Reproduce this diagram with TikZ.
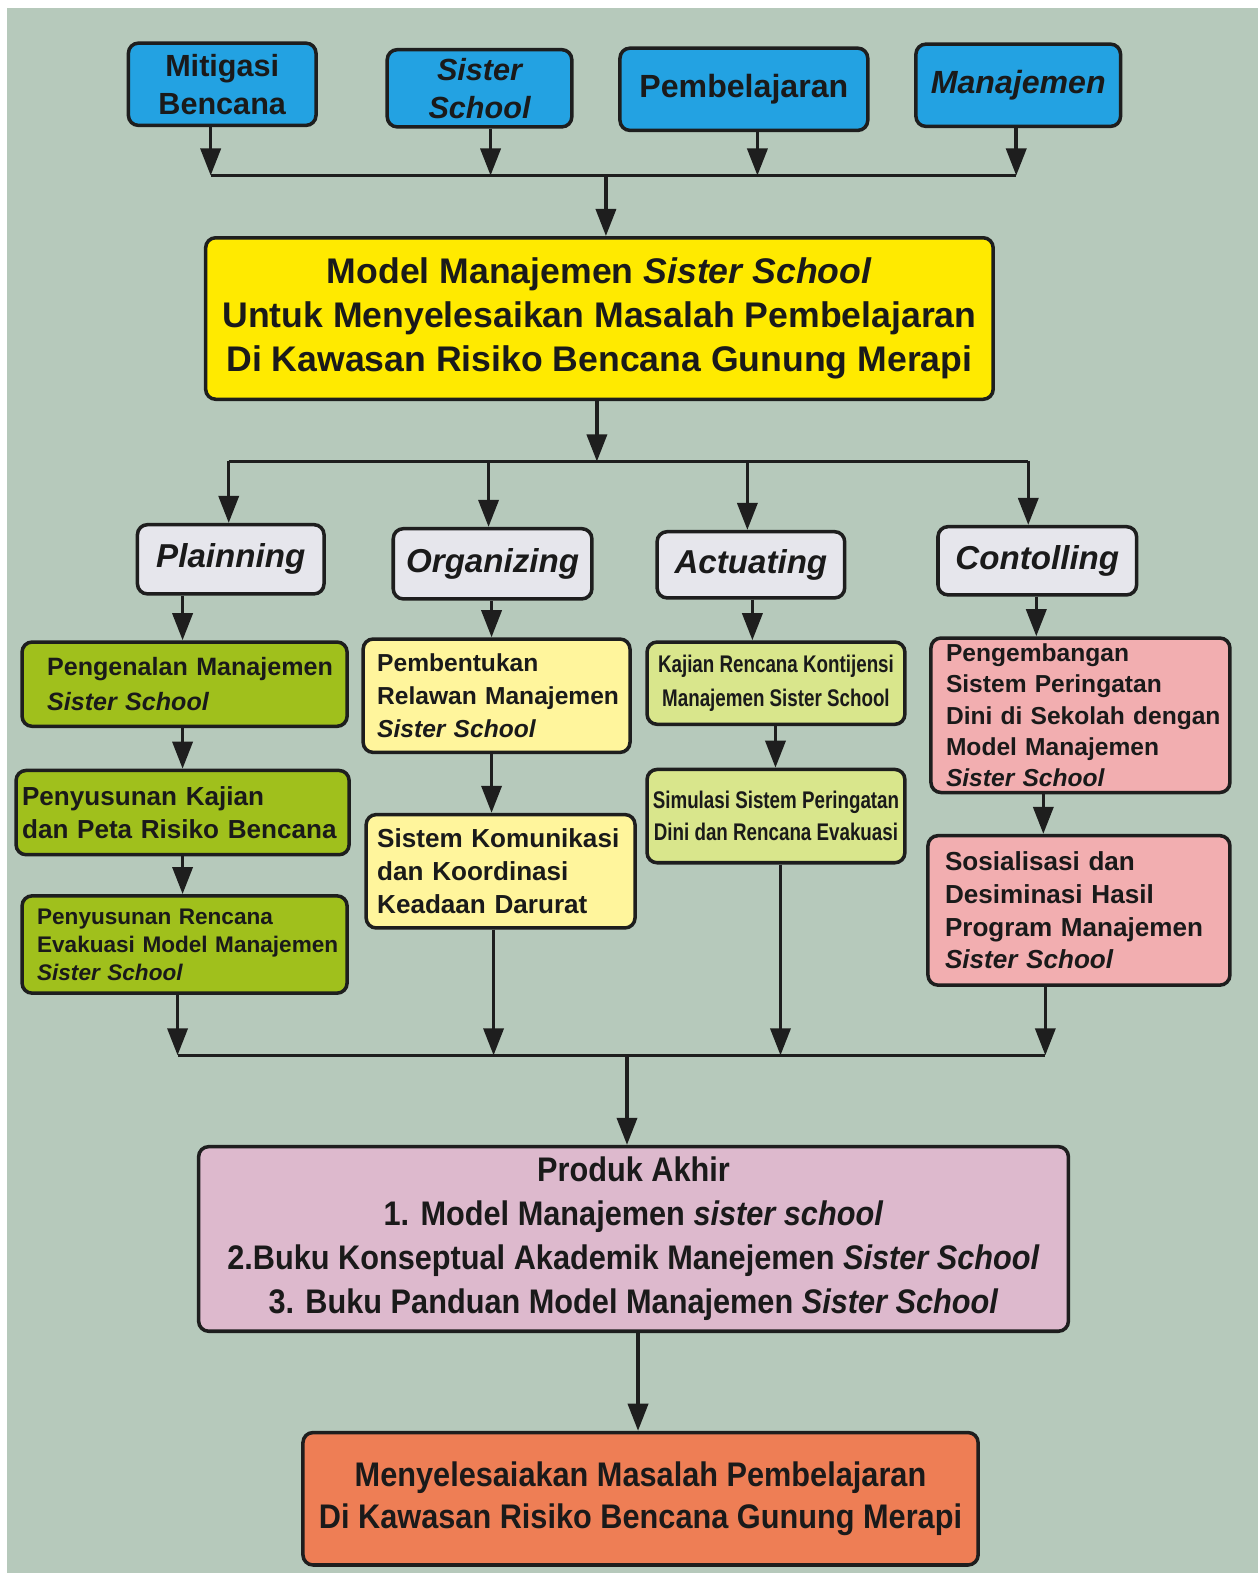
\documentclass[tikz,border=0pt]{standalone}
\usepackage{fontspec}
\setmainfont{Liberation Sans}
\newfontfamily\narrowf{Liberation Sans}[FakeStretch=0.78]
\newfontfamily\semif{Liberation Sans}[FakeStretch=0.9]
\usetikzlibrary{arrows.meta}
\definecolor{bg}{HTML}{B6C9BB}
\definecolor{linec}{HTML}{1E1E1E}
\definecolor{txt}{HTML}{1A1A1A}
\definecolor{blue1}{HTML}{23A2E2}
\definecolor{yel}{HTML}{FFEA00}
\definecolor{gry}{HTML}{E6E6EC}
\definecolor{grn}{HTML}{A0C01C}
\definecolor{lyel}{HTML}{FFF59C}
\definecolor{lgrn}{HTML}{D9E68C}
\definecolor{pnk}{HTML}{F2AEB0}
\definecolor{lil}{HTML}{DDB9CD}
\definecolor{org}{HTML}{EE7E55}
\newcommand\fs[2]{\fontsize{#1}{#2}\selectfont}
\newcommand\ind[1]{\hspace*{#1}}
\tikzset{
  box/.style={draw=linec, line width=3.5pt, rounded corners=10pt, inner ysep=0pt, text=txt},
  lbox/.style={box, align=left, inner xsep=0pt},
  arr/.style={draw=linec, line width=3.5pt, -{Triangle[width=20pt,length=27pt]}},
  bus/.style={draw=linec, line width=3.5pt},
}
\begin{document}
\begin{tikzpicture}[x=1pt,y=-1pt]
\useasboundingbox (0,0) rectangle (1254,1568);
\fill[white] (0,0) rectangle (1254,1568);
\fill[bg] (7,8) rectangle (1254,1568);

% top row
\node[box, fill=blue1, minimum width=187pt, minimum height=82pt, align=center, font=\bfseries\fs{30.5}{38}] (mit) at (221.5,84) {Mitigasi\\Bencana};
\node[box, fill=blue1, minimum width=184pt, minimum height=77pt, align=center, font=\bfseries\itshape\fs{30.5}{38}] (sis) at (478,88) {Sister\\School};
\node[box, fill=blue1, minimum width=247pt, minimum height=82pt, align=center, font=\bfseries\fs{32}{38}] (pem) at (741.5,89) {Pembelajaran};
\node[box, fill=blue1, minimum width=204pt, minimum height=82pt, align=center, font=\bfseries\itshape\fs{32}{38}] (man) at (1015,85) {Manajemen};

\coordinate (b1) at (210,175);
\coordinate (b2) at (489,175);
\coordinate (b3) at (755,175);
\coordinate (b4) at (1013,175);
\coordinate (bm) at (604,175);
\draw[arr] (mit.south -| b1) -- (b1);
\draw[arr] (sis.south -| b2) -- (b2);
\draw[arr] (pem.south -| b3) -- (b3);
\draw[arr] (man.south -| b4) -- (b4);
\draw[bus] (b1) -- (b4);

% model
\node[box, fill=yel, minimum width=785pt, minimum height=161pt, align=center, font=\bfseries\fs{35.5}{44}] (model) at (597.5,317.5)
 {Model Manajemen \textit{Sister School}\\Untuk Menyelesaikan Masalah Pembelajaran\\Di Kawasan Risiko Bencana Gunung Merapi};
\draw[arr] (bm) -- (model.north -| bm);

% bus 2
\coordinate (m1) at (595,460);
\coordinate (d1) at (228,460);
\coordinate (d2) at (487,460);
\coordinate (d3) at (745,460);
\coordinate (d4) at (1025,460);
\draw[arr] (model.south -| m1) -- (m1);
\draw[bus] (d1) -- (d4);

% gray
\node[box, fill=gry, minimum width=186pt, minimum height=69pt, align=center, font=\bfseries\itshape\fs{33}{38}] (pl) at (230,557.5) {Plainning};
\node[box, fill=gry, minimum width=198pt, minimum height=70pt, align=center, font=\bfseries\itshape\fs{33}{38}] (orgz) at (491,562) {Organizing};
\node[box, fill=gry, minimum width=187pt, minimum height=66pt, align=center, font=\bfseries\itshape\fs{33}{38}] (act) at (748.5,563) {Actuating};
\node[box, fill=gry, minimum width=198pt, minimum height=68pt, align=center, font=\bfseries\itshape\fs{33}{38}] (con) at (1034,559) {Contolling};
\draw[arr] (d1) -- (pl.north -| d1);
\draw[arr] (d2) -- (orgz.north -| d2);
\draw[arr] (d3) -- (act.north -| d3);
\draw[arr] (d4) -- (con.north -| d4);

% column 1
\coordinate (x1) at (182,0);
\coordinate (x1b) at (177,1052);
\node[lbox, fill=grn, minimum width=324pt, minimum height=84pt, text width=324pt, font=\bfseries\fs{25}{35}] (g1) at (184,682)
 {\ind{25pt}Pengenalan Manajemen\\\ind{25pt}\textit{Sister School}};
\node[lbox, fill=grn, minimum width=332pt, minimum height=84pt, text width=332pt, font=\bfseries\fs{26}{33}] (g2) at (182,810)
 {\ind{6pt}Penyusunan Kajian\\\ind{6pt}dan Peta Risiko Bencana};
\node[lbox, fill=grn, minimum width=324pt, minimum height=97pt, text width=324pt, font=\bfseries\fs{22.5}{28}] (g3) at (184,941.5)
 {\ind{15pt}Penyusunan Rencana\\\ind{15pt}Evakuasi Model Manajemen\\\ind{15pt}\textit{Sister School}};
\draw[arr] (pl.south -| x1) -- (g1.north -| x1);
\draw[arr] (g1.south -| x1) -- (g2.north -| x1);
\draw[arr] (g2.south -| x1) -- (g3.north -| x1);
\draw[arr] (g3.south -| x1b) -- (x1b);

% column 2
\coordinate (x2) at (490,0);
\coordinate (x2b) at (492,1052);
\node[lbox, fill=lyel, minimum width=266pt, minimum height=113pt, text width=266pt, font=\bfseries\fs{24.5}{33}] (y1) at (495,693.5)
 {\ind{14pt}Pembentukan\\\ind{14pt}Relawan Manajemen\\\ind{14pt}\textit{Sister School}};
\node[lbox, fill=lyel, minimum width=268pt, minimum height=113pt, text width=268pt, font=\bfseries\fs{26}{33}] (y2) at (499,868.5)
 {\ind{11pt}Sistem Komunikasi\\\ind{11pt}dan Koordinasi\\\ind{11pt}Keadaan Darurat};
\draw[arr] (orgz.south -| x2) -- (y1.north -| x2);
\draw[arr] (y1.south -| x2) -- (y2.north -| x2);
\draw[arr] (y2.south -| x2b) -- (x2b);

% column 3
\coordinate (x3) at (773,0);
\coordinate (x3a) at (750,0);
\coordinate (x3b) at (778,1052);
\node[box, fill=lgrn, minimum width=257pt, minimum height=82pt, align=center, font=\narrowf\bfseries\fs{24}{34}] (c1) at (773.5,681)
 {Kajian Rencana Kontijensi\\Manajemen Sister School};
\node[box, fill=lgrn, minimum width=257pt, minimum height=93pt, align=center, font=\narrowf\bfseries\fs{24}{32}] (c2) at (773.5,813.5)
 {Simulasi Sistem Peringatan\\Dini dan Rencana Evakuasi};
\draw[arr] (act.south -| x3a) -- (c1.north -| x3a);
\draw[arr] (c1.south -| x3) -- (c2.north -| x3);
\draw[arr] (c2.south -| x3b) -- (x3b);

% column 4
\coordinate (x4) at (1033,0);
\coordinate (x4a) at (1040,0);
\coordinate (x4b) at (1042,1052);
\node[lbox, fill=pnk, minimum width=298pt, minimum height=154pt, text width=298pt, font=\bfseries\fs{24.5}{31}] (p1) at (1077,713)
 {\ind{15pt}Pengembangan\\\ind{15pt}Sistem Peringatan\\\ind{15pt}Dini di Sekolah dengan\\\ind{15pt}Model Manajemen\\\ind{15pt}\textit{Sister School}};
\node[lbox, fill=pnk, minimum width=301pt, minimum height=149pt, text width=301pt, font=\bfseries\fs{26}{32.5}] (p2) at (1075.5,907.5)
 {\ind{17pt}Sosialisasi dan\\\ind{17pt}Desiminasi Hasil\\\ind{17pt}Program Manajemen\\\ind{17pt}\textit{Sister School}};
\draw[arr] (con.south -| x4) -- (p1.north -| x4);
\draw[arr] (p1.south -| x4a) -- (p2.north -| x4a);
\draw[arr] (p2.south -| x4b) -- (x4b);

% bus 3
\draw[bus] (x1b) -- (x4b);
\coordinate (pm) at (625,1052);

% produk
\node[box, fill=lil, minimum width=867pt, minimum height=184pt, align=center, font=\semif\bfseries\fs{34}{44}] (prod) at (631.5,1235)
 {Produk Akhir\\1. Model Manajemen \textit{sister school}\\2.Buku Konseptual Akademik Manejemen \textit{Sister School}\\3. Buku Panduan Model Manajemen \textit{Sister School}};
\draw[arr] (pm) -- (prod.north -| pm);

% final
\coordinate (x5) at (636,0);
\node[box, fill=org, minimum width=673pt, minimum height=132pt, align=center, font=\semif\bfseries\fs{34}{42}] (fin) at (638.5,1494)
 {Menyelesaiakan Masalah Pembelajaran\\Di Kawasan Risiko Bencana Gunung Merapi};
\draw[arr] (prod.south -| x5) -- (fin.north -| x5);
\end{tikzpicture}
\end{document}
